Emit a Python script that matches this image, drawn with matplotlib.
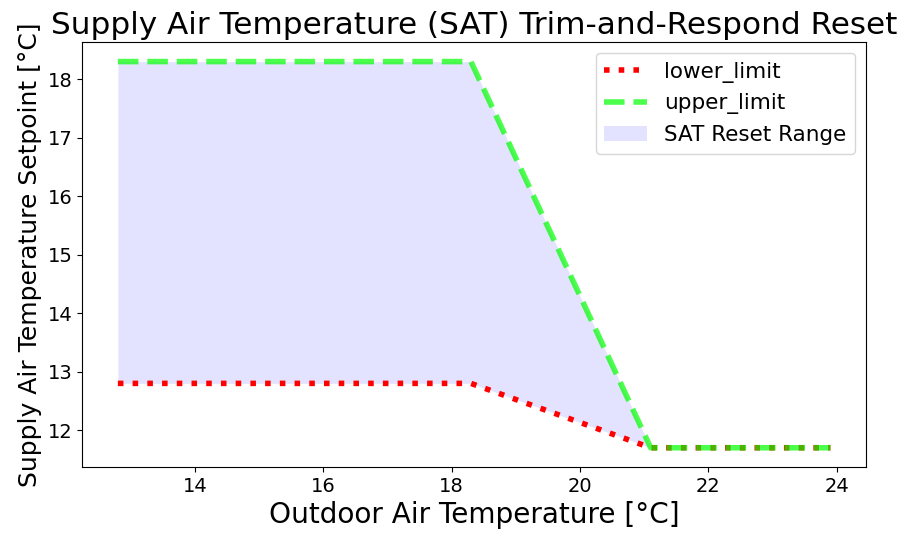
import numpy as np
import matplotlib
matplotlib.use('Agg')
import matplotlib.pyplot as plt

# outdoor air temp breakpoints [°C] and SAT limits [°C]
oat = [12.8, 18.3, 21.1, 23.9]
lower_limit = [12.8, 12.8, 11.7, 11.7]
upper_limit = [18.3, 18.3, 11.7, 11.7]

fig = plt.figure(figsize=(9.04, 5.35), dpi=100)
ax = fig.add_axes([0.091, 0.127, 0.867, 0.794])

ax.plot(oat, lower_limit, color='red', ls=':', lw=4, label='lower_limit')
ax.plot(oat, upper_limit, color='lime', ls='--', lw=4, alpha=0.7, label='upper_limit')
ax.fill_between(oat, lower_limit, upper_limit, color='blue', alpha=0.11,
                lw=0, label='SAT Reset Range')

ax.set_title('Supply Air Temperature (SAT) Trim-and-Respond Reset', fontsize=22.4)
ax.set_xlabel('Outdoor Air Temperature [°C]', fontsize=20.2)
ax.set_ylabel('Supply Air Temperature Setpoint [°C]', fontsize=18)
ax.tick_params(labelsize=14)
ax.legend(loc='upper right', fontsize=15.5)

plt.savefig('out.png', dpi=100)
